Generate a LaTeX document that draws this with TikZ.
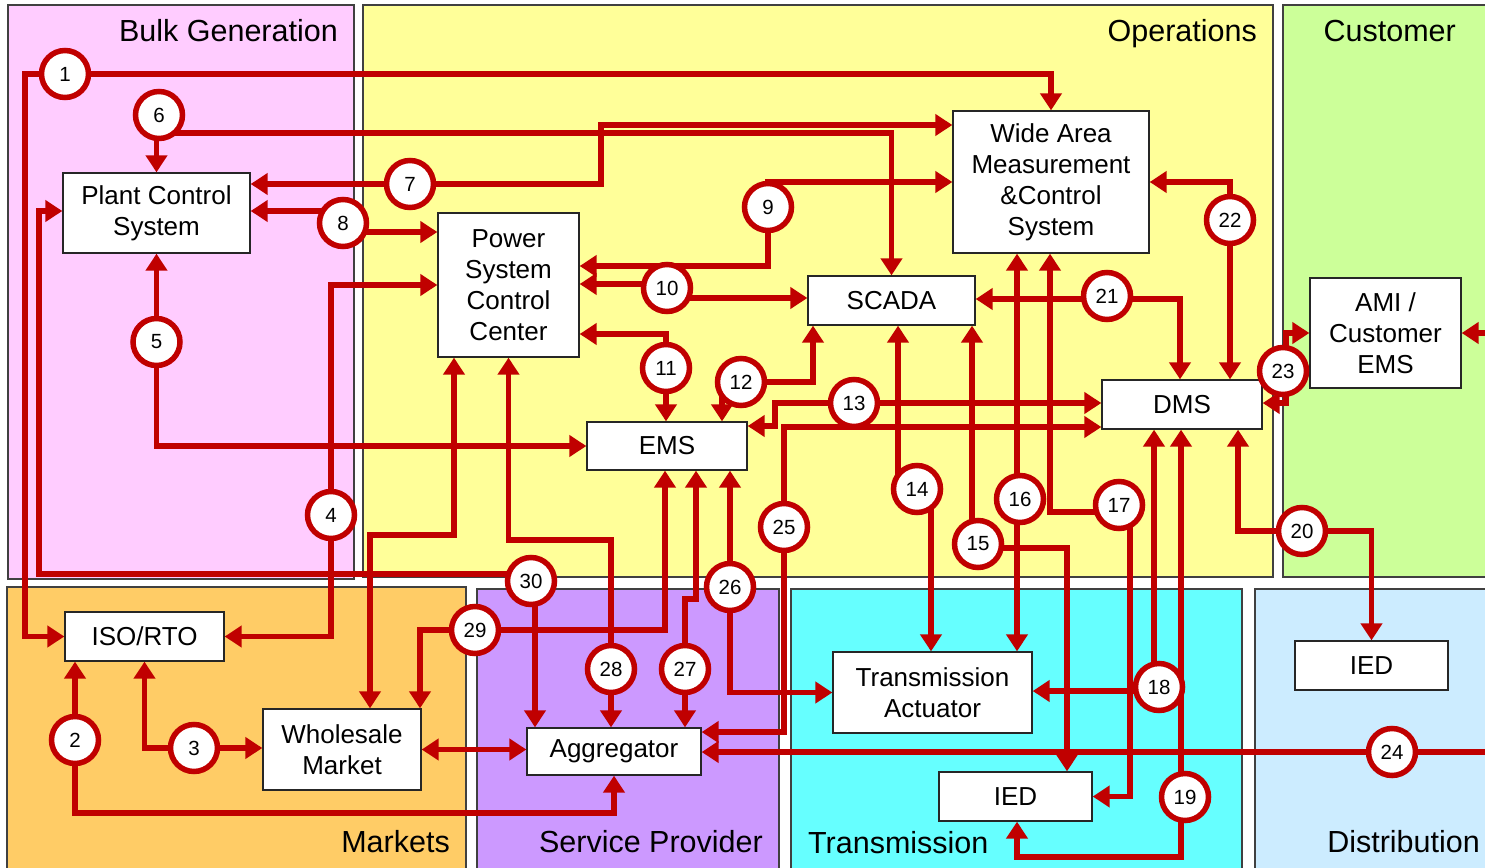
\documentclass[tikz,border=0pt]{standalone}
\usepackage{fontspec}
\setmainfont{Liberation Sans}
\usetikzlibrary{arrows.meta}
\pgfdeclarelayer{bg}
\pgfdeclarelayer{lines}
\pgfsetlayers{bg,lines,main}
\definecolor{lred}{RGB}{192,0,0}
\definecolor{cBulk}{RGB}{255,204,255}
\definecolor{cOps}{RGB}{255,255,153}
\definecolor{cCust}{RGB}{204,255,153}
\definecolor{cMark}{RGB}{255,204,102}
\definecolor{cServ}{RGB}{204,153,255}
\definecolor{cTrans}{RGB}{102,255,255}
\definecolor{cDist}{RGB}{204,236,255}
\begin{document}
\begin{tikzpicture}[x=1pt,y=-1pt,
  box/.style={draw=black!85, line width=1.3pt, fill=white, inner sep=0pt, align=center, font=\fontsize{26}{31}\selectfont},
  num/.style={circle, draw=lred, line width=5.5pt, fill=white, minimum size=47pt, inner sep=0pt, font=\fontsize{20.5}{21}\selectfont},
  conn/.style={draw=lred, line width=5.5pt},
  arr/.style={conn, -{Triangle[length=17pt,width=21pt]}},
  arr2/.style={conn, {Triangle[length=17pt,width=21pt]}-{Triangle[length=17pt,width=21pt]}},
  region/.style={draw=black!75, line width=1.2pt},
  title/.style={font=\fontsize{30.5}{36}\selectfont, inner sep=0pt}
]
\useasboundingbox (0,0) rectangle (1485,867);
\begin{pgfonlayer}{bg}
  \clip (0,0) rectangle (1485,867);
  \fill[white] (0,0) rectangle (1485,867);
  \draw[region, fill=cBulk] (8,5) rectangle (354,579);
  \draw[region, fill=cOps] (363,5) rectangle (1273,577);
  \draw[region, fill=cCust] (1283,5) rectangle (1500,577);
  \draw[region, fill=cMark] (7,587) rectangle (466,880);
  \draw[region, fill=cServ] (477,589) rectangle (779,880);
  \draw[region, fill=cTrans] (791,589) rectangle (1242,880);
  \draw[region, fill=cDist] (1255,589) rectangle (1500,880);
  \node[title, anchor=base east] (tBulk) at (338,42) {Bulk Generation};
  \node[title, anchor=base east] (tOps) at (1257,42) {Operations};
  \node[title, anchor=base east] (tCust) at (1456,42) {Customer};
  \node[title, anchor=base east] (tMark) at (450,852) {Markets};
  \node[title, anchor=base east] (tServ) at (763,852) {Service Provider};
  \node[title, anchor=base west] (tTrans) at (808,853) {Transmission};
  \node[title, anchor=base east] (tDist) at (1480,852) {Distribution};
\end{pgfonlayer}

% boxes
\node[box, minimum width=187pt, minimum height=80pt] (pcs) at (156.5,213) {Plant Control\\System};
\node[box, minimum width=141pt, minimum height=144pt] (pscc) at (508.5,285) {Power\\System\\Control\\Center};
\node[box, minimum width=196pt, minimum height=142pt] (wams) at (1051,182) {Wide Area\\Measurement\\\&Control\\System};
\node[box, minimum width=167pt, minimum height=49pt] (scada) at (891.5,300.5) {SCADA};
\node[box, minimum width=160pt, minimum height=49pt] (dms) at (1182,404.5) {DMS};
\node[box, minimum width=151pt, minimum height=110pt] (ami) at (1385.5,333) {AMI /\\Customer\\EMS};
\node[box, minimum width=160pt, minimum height=48pt] (ems) at (667,446) {EMS};
\node[box, minimum width=159pt, minimum height=49pt] (iso) at (144.5,636.5) {ISO/RTO};
\node[box, minimum width=158pt, minimum height=81pt] (wm) at (342,749.5) {Wholesale\\Market};
\node[box, minimum width=174pt, minimum height=47pt] (agg) at (614,751.5) {Aggregator};
\node[box, minimum width=199pt, minimum height=81pt] (ta) at (932.5,692.5) {Transmission\\Actuator};
\node[box, minimum width=153pt, minimum height=49pt] (iedt) at (1015.5,796.5) {IED};
\node[box, minimum width=153pt, minimum height=49pt] (iedd) at (1371.5,665.5) {IED};

% numbered circles
\node[num] (c1) at (65,74) {1};
\node[num] (c2) at (75,740) {2};
\node[num] (c3) at (194,748) {3};
\node[num] (c4) at (331,515) {4};
\node[num] (c5) at (156.5,342) {5};
\node[num] (c6) at (159,115) {6};
\node[num] (c7) at (410,184) {7};
\node[num] (c8) at (343,223) {8};
\node[num] (c9) at (768,207) {9};
\node[num] (c10) at (667,288) {10};
\node[num] (c11) at (666,368) {11};
\node[num] (c12) at (741,382) {12};
\node[num] (c13) at (854,403) {13};
\node[num] (c14) at (917,489) {14};
\node[num] (c15) at (978,544) {15};
\node[num] (c16) at (1020,499) {16};
\node[num] (c17) at (1119,505) {17};
\node[num] (c18) at (1159,687) {18};
\node[num] (c19) at (1185,797) {19};
\node[num] (c20) at (1302,531) {20};
\node[num] (c21) at (1107,296) {21};
\node[num] (c22) at (1230,220) {22};
\node[num] (c23) at (1283,371) {23};
\node[num] (c24) at (1392,752) {24};
\node[num] (c25) at (784,527) {25};
\node[num] (c26) at (730,587) {26};
\node[num] (c27) at (685,669) {27};
\node[num] (c28) at (611,669) {28};
\node[num] (c29) at (475,630) {29};
\node[num] (c30) at (531,581) {30};

\begin{pgfonlayer}{lines}
% 1
\draw[arr] (c1.center) -| (wams.north);
\draw[arr] (c1.center) -| (25,0 |- iso.west) -- (iso.west);
% 2
\draw[arr] (c2.center) -- (c2.center |- iso.south);
\draw[arr] (c2.center) |- (agg.south |- 0,813) -- (agg.south);
% 3
\draw[arr] (c3.center) -| (iso.south);
\draw[arr] (c3.center) -- (c3.center -| wm.west);
% 4
\draw[arr] (c4.center) |- (pscc.west);
\draw[arr] (c4.center) |- (iso.east);
% 5
\draw[arr] (c5.center) -- (c5.center |- pcs.south);
\draw[arr] (c5.center) |- (ems.west);
% 6
\draw[arr] (c6.center -| pcs.north) -- (pcs.north);
\coordinate (k6) at (159,133);
\draw[arr] (k6) -| (scada.north);
% 7
\draw[arr] (c7.center) -- (c7.center -| pcs.east);
\coordinate (k7) at (601,125);
\draw[arr] (c7.center) -| (k7) -- (k7 -| wams.west);
% 8
\coordinate (k8a) at (343,211);
\coordinate (k8b) at (343,232);
\draw[arr] (k8a) -- (k8a -| pcs.east);
\draw[arr] (k8b) -- (k8b -| pscc.west);
% 9
\draw[arr] (c9.center) |- (wams.west);
\draw[arr] (c9.center) |- (pscc.east |- 0,266);
% 10
\coordinate (k10a) at (667,284);
\coordinate (k10b) at (667,298);
\draw[arr] (k10a) -- (k10a -| pscc.east);
\draw[arr] (k10b) -- (k10b -| scada.west);
% 11
\draw[arr] (c11.center) |- (pscc.east |- 0,334);
\draw[arr] (c11.center) -- (c11.center |- ems.north);
% 12
\draw[arr] (c12.center) -| (813,0 |- scada.south);
\coordinate (k12) at (722,392);
\draw[arr] (k12) -- (k12 |- ems.north);
% 13
\draw[arr] (c13.center) -- (c13.center -| dms.west);
\coordinate (k13) at (775,426);
\draw[arr] (c13.center) -| (k13) -- (k13 -| ems.east);
% 14
\coordinate (k14a) at (898,482);
\coordinate (k14b) at (931,495);
\draw[arr] (k14a) -- (k14a |- scada.south);
\draw[arr] (k14b) -- (k14b |- ta.north);
% 15
\coordinate (k15a) at (972,538);
\coordinate (k15b) at (978,548);
\draw[arr] (k15a) -- (k15a |- scada.south);
\draw[arr] (k15b) -| (1067,0 |- iedt.north);
% 16
\coordinate (k16) at (1017,499);
\draw[arr] (k16) -- (k16 |- wams.south);
\draw[arr] (k16) -- (k16 |- ta.north);
% 17
\coordinate (k17a) at (1119,512);
\coordinate (k17b) at (1130,505);
\draw[arr] (k17a) -| (1050,0 |- wams.south);
\draw[arr] (k17b) |- (iedt.east);
% 18
\coordinate (k18a) at (1159,691);
\coordinate (k18b) at (1154,687);
\draw[arr] (k18a) -- (k18a -| ta.east);
\draw[arr] (k18b) -- (k18b |- dms.south);
% 19
\coordinate (k19) at (1181,797);
\coordinate (k19c) at (1017,857);
\draw[arr] (k19) -- (k19 |- dms.south);
\draw[arr] (k19) |- (k19c) -- (k19c |- iedt.south);
% 20
\draw[arr] (c20.center) -| (1238,0 |- dms.south);
\draw[arr] (c20.center) -| (iedd.north);
% 21
\coordinate (k21) at (1107,299);
\draw[arr] (k21) -- (k21 -| scada.east);
\draw[arr] (k21) -| (1180,0 |- dms.north);
% 22
\draw[arr] (c22.center) |- (wams.east);
\draw[arr] (c22.center) -- (c22.center |- dms.north);
% 23
\coordinate (k23) at (1286,371);
\draw[arr] (k23) |- (ami.west);
\draw[arr] (k23) |- (dms.east |- 0,403);
\coordinate (e23) at (1485,333);
\draw[arr] (e23) -- (ami.east);
% 24
\coordinate (e24) at (1485,752);
\draw[arr] (c24.center) -- (c24.center -| agg.east);
\draw[conn] (c24.center) -- (e24);
% 25
\draw[arr] (c25.center) |- (dms.west |- 0,427);
\draw[arr] (c25.center) |- (agg.east |- 0,732);
% 26
\draw[arr] (c26.center) -- (c26.center |- ems.south);
\draw[arr] (c26.center) |- (ta.west);
% 27
\coordinate (k27) at (696,599);
\draw[arr] (c27.center) |- (k27) -- (k27 |- ems.south);
\draw[arr] (c27.center) -- (c27.center |- agg.north);
% 28
\coordinate (k28) at (pscc.south |- 0,540);
\draw[arr] (c28.center) |- (k28) -- (pscc.south);
\draw[arr] (c28.center) -- (c28.center |- agg.north);
% 29
\draw[arr] (c29.center) -| (665,0 |- ems.south);
\draw[arr] (c29.center) -| (420,0 |- wm.north);
% 30
\coordinate (k30a) at (531,574);
\coordinate (k30b) at (535,585);
\coordinate (k30c) at (39,211);
\draw[arr] (k30a) -| (k30c) -- (k30c -| pcs.west);
\draw[arr] (k30b) -- (k30b |- agg.north);
% unnumbered
\coordinate (kw) at (370,535);
\coordinate (kp) at (454,535);
\draw[arr2] (kw |- wm.north) -- (kw) -- (kp) -- (kp |- pscc.south);
\draw[arr2] (wm.east) -- (wm.east -| agg.west);
\end{pgfonlayer}
\end{tikzpicture}
\end{document}
